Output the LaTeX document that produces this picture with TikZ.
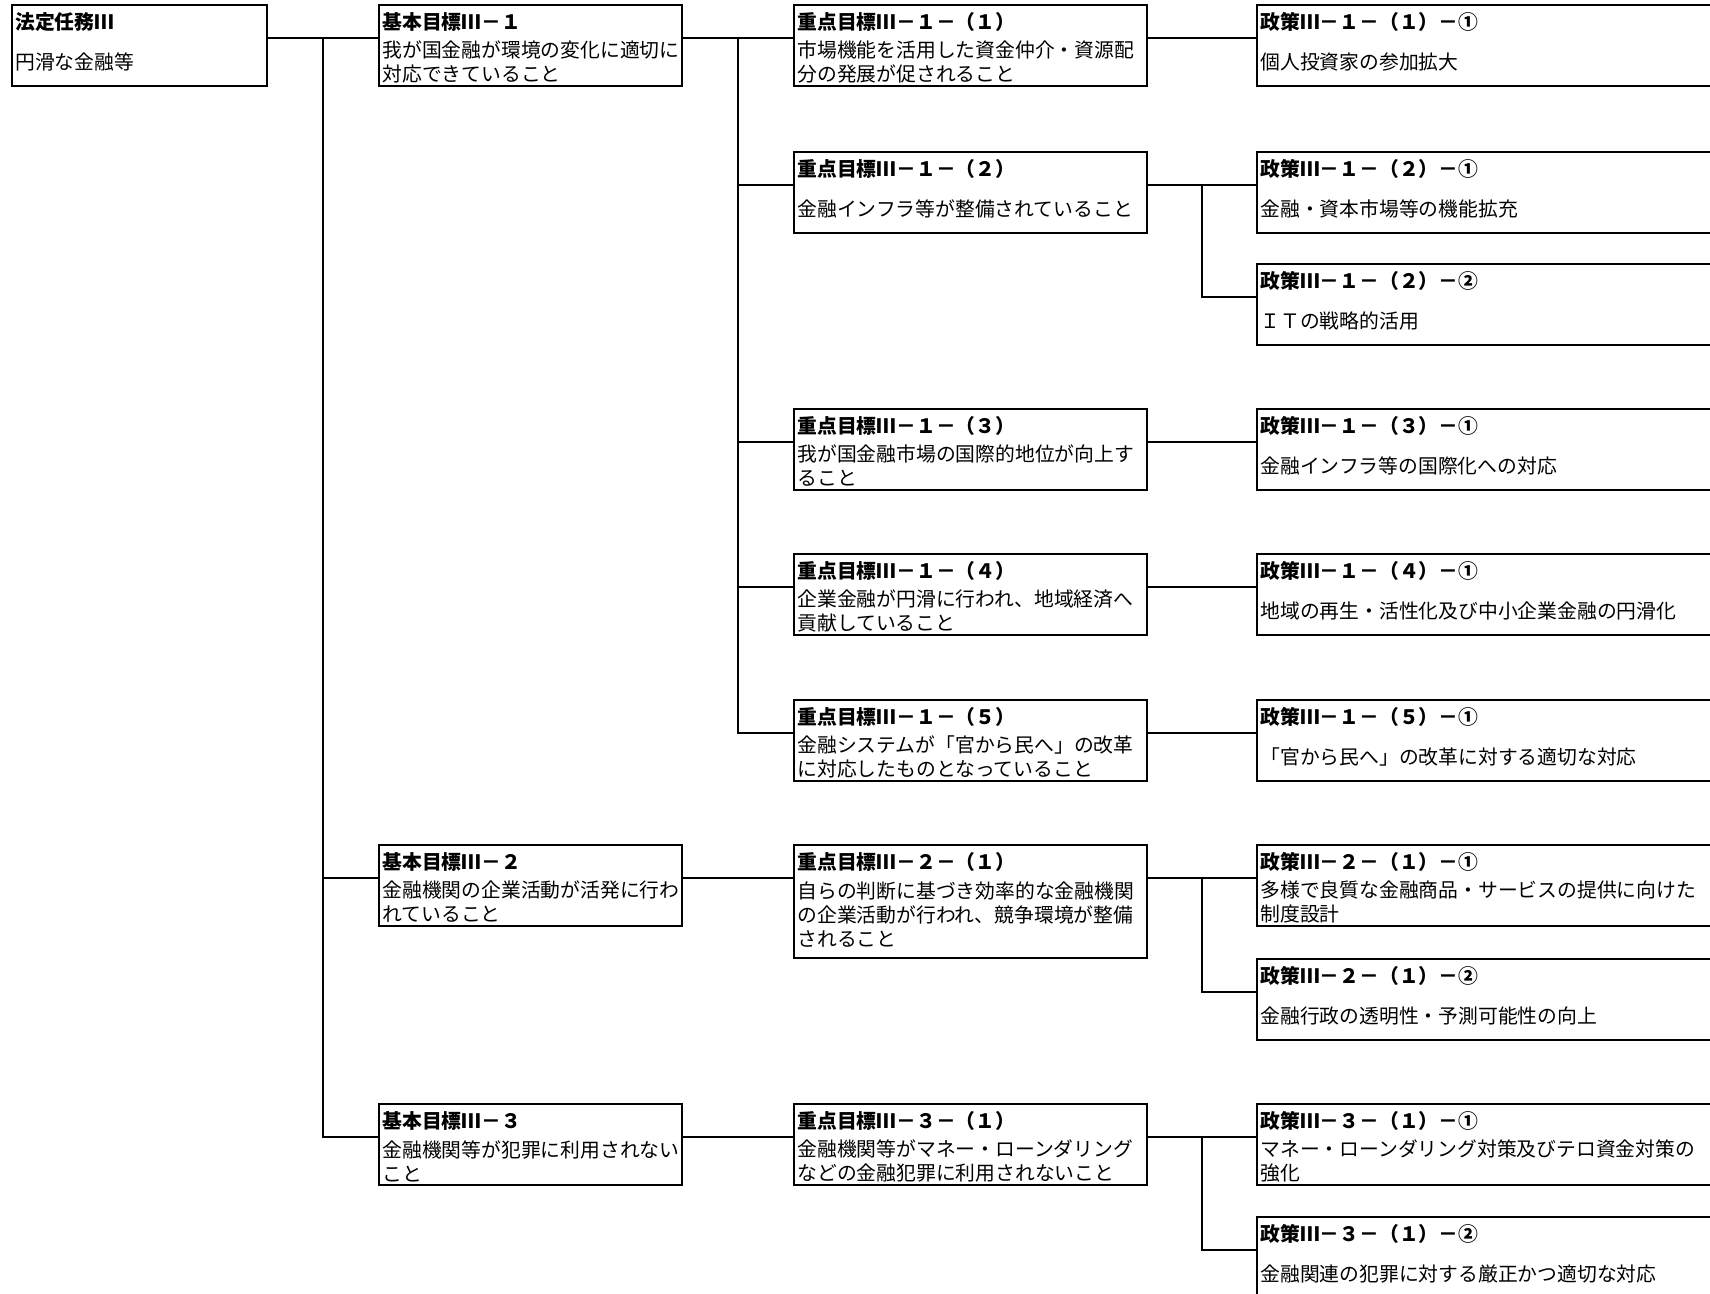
\documentclass[tikz,border=0pt]{standalone}
\usepackage{fontspec}
\setmainfont{Noto Sans CJK JP}
\usepackage{tikz}
\newcommand{\boxfont}{\fontsize{9.9pt}{12pt}\selectfont}
\newcommand{\numthree}{\makebox[1em][c]{Ⅲ}}
\newcommand{\defaultboxheight}{40.5pt}
\newcommand{\joinshift}{16.5pt}
\tikzstyle{goalbox}=[draw, line width=1.4pt, inner sep=0, outer sep=0, anchor=north west, minimum height=\defaultboxheight]
\tikzstyle{mbox}=[goalbox, minimum width=127.5pt]
\tikzstyle{bbox}=[goalbox, minimum width=151.5pt]
\tikzstyle{kbox}=[goalbox, minimum width=176.5pt]
\tikzstyle{sbox}=[goalbox, minimum width=240pt]
\tikzstyle{boxtitle}=[anchor=west, inner sep=0, font=\boxfont\bfseries]
\tikzstyle{boxbody}=[anchor=west, inner sep=0, align=left, font=\boxfont]
\tikzstyle{joinline}=[line width=1pt]

\begin{document}
\begin{tikzpicture}[x=0.5pt, y=-0.5pt]
    \clip (0,0) rectangle (1710,1294);
    % mission
    \node[mbox] (m) at (12,5) {};
    \node[boxtitle] (mt) at ([xshift=1.5pt,yshift=-8.5pt]m.north west) {法定任務\numthree};
    \node[boxbody] (mb) at ([xshift=1.5pt,yshift=-28.5pt]m.north west) {円滑な金融等};
    % basic goals
    \node[bbox] (b1) at (379,5) {};
    \node[boxtitle] (b1t) at ([xshift=1.5pt,yshift=-8.5pt]b1.north west) {基本目標\numthree－１};
    \node[boxbody] (b1b) at ([xshift=1.5pt,yshift=-28.5pt]b1.north west) {我が国金融が環境の変化に適切に\\対応できていること};
    \node[bbox] (b2) at (379,845) {};
    \node[boxtitle] (b2t) at ([xshift=1.5pt,yshift=-8.5pt]b2.north west) {基本目標\numthree－２};
    \node[boxbody] (b2b) at ([xshift=1.5pt,yshift=-28.5pt]b2.north west) {金融機関の企業活動が活発に行わ\\れていること};
    \node[bbox] (b3) at (379,1104) {};
    \node[boxtitle] (b3t) at ([xshift=1.5pt,yshift=-8.5pt]b3.north west) {基本目標\numthree－３};
    \node[boxbody] (b3b) at ([xshift=1.5pt,yshift=-28.5pt]b3.north west) {金融機関等が犯罪に利用されない\\こと};
    % key goals
    \node[kbox] (k11) at (794,5) {};
    \node[boxtitle] (k11t) at ([xshift=1.5pt,yshift=-8.5pt]k11.north west) {重点目標\numthree－１－（１）};
    \node[boxbody] (k11b) at ([xshift=1.5pt,yshift=-28.5pt]k11.north west) {市場機能を活用した資金仲介・資源配\\分の発展が促されること};
    \node[kbox] (k12) at (794,152) {};
    \node[boxtitle] (k12t) at ([xshift=1.5pt,yshift=-8.5pt]k12.north west) {重点目標\numthree－１－（２）};
    \node[boxbody] (k12b) at ([xshift=1.5pt,yshift=-28.5pt]k12.north west) {金融インフラ等が整備されていること};
    \node[kbox] (k13) at (794,409) {};
    \node[boxtitle] (k13t) at ([xshift=1.5pt,yshift=-8.5pt]k13.north west) {重点目標\numthree－１－（３）};
    \node[boxbody] (k13b) at ([xshift=1.5pt,yshift=-28.5pt]k13.north west) {我が国金融市場の国際的地位が向上す\\ること};
    \node[kbox] (k14) at (794,554) {};
    \node[boxtitle] (k14t) at ([xshift=1.5pt,yshift=-8.5pt]k14.north west) {重点目標\numthree－１－（４）};
    \node[boxbody] (k14b) at ([xshift=1.5pt,yshift=-28.5pt]k14.north west) {企業金融が円滑に行われ、地域経済へ\\貢献していること};
    \node[kbox] (k15) at (794,700) {};
    \node[boxtitle] (k15t) at ([xshift=1.5pt,yshift=-8.5pt]k15.north west) {重点目標\numthree－１－（５）};
    \node[boxbody] (k15b) at ([xshift=1.5pt,yshift=-28.5pt]k15.north west) {金融システムが「官から民へ」の改革\\に対応したものとなっていること};
    \node[kbox, minimum height=56.5pt] (k21) at (794,845) {};
    \node[boxtitle] (k21t) at ([xshift=1.5pt,yshift=-8.5pt]k21.north west) {重点目標\numthree－２－（１）};
    \node[boxbody] (k21b) at ([xshift=1.5pt,yshift=-35pt]k21.north west) {自らの判断に基づき効率的な金融機関\\の企業活動が行われ、競争環境が整備\\されること};
    \node[kbox] (k31) at (794,1104) {};
    \node[boxtitle] (k31t) at ([xshift=1.5pt,yshift=-8.5pt]k31.north west) {重点目標\numthree－３－（１）};
    \node[boxbody] (k31b) at ([xshift=1.5pt,yshift=-28.5pt]k31.north west) {金融機関等がマネー・ローンダリング\\などの金融犯罪に利用されないこと};
    % policies
    \node[sbox] (s111) at (1257,5) {};
    \node[boxtitle] (s111t) at ([xshift=1.5pt,yshift=-8.5pt]s111.north west) {政策\numthree－１－（１）－①};
    \node[boxbody] (s111b) at ([xshift=1.5pt,yshift=-28.5pt]s111.north west) {個人投資家の参加拡大};
    \node[sbox] (s121) at (1257,152) {};
    \node[boxtitle] (s121t) at ([xshift=1.5pt,yshift=-8.5pt]s121.north west) {政策\numthree－１－（２）－①};
    \node[boxbody] (s121b) at ([xshift=1.5pt,yshift=-28.5pt]s121.north west) {金融・資本市場等の機能拡充};
    \node[sbox] (s122) at (1257,264) {};
    \node[boxtitle] (s122t) at ([xshift=1.5pt,yshift=-8.5pt]s122.north west) {政策\numthree－１－（２）－②};
    \node[boxbody] (s122b) at ([xshift=1.5pt,yshift=-28.5pt]s122.north west) {ＩＴの戦略的活用};
    \node[sbox] (s131) at (1257,409) {};
    \node[boxtitle] (s131t) at ([xshift=1.5pt,yshift=-8.5pt]s131.north west) {政策\numthree－１－（３）－①};
    \node[boxbody] (s131b) at ([xshift=1.5pt,yshift=-28.5pt]s131.north west) {金融インフラ等の国際化への対応};
    \node[sbox] (s141) at (1257,554) {};
    \node[boxtitle] (s141t) at ([xshift=1.5pt,yshift=-8.5pt]s141.north west) {政策\numthree－１－（４）－①};
    \node[boxbody] (s141b) at ([xshift=1.5pt,yshift=-28.5pt]s141.north west) {地域の再生・活性化及び中小企業金融の円滑化};
    \node[sbox] (s151) at (1257,700) {};
    \node[boxtitle] (s151t) at ([xshift=1.5pt,yshift=-8.5pt]s151.north west) {政策\numthree－１－（５）－①};
    \node[boxbody] (s151b) at ([xshift=1.5pt,yshift=-28.5pt]s151.north west) {「官から民へ」の改革に対する適切な対応};
    \node[sbox] (s211) at (1257,845) {};
    \node[boxtitle] (s211t) at ([xshift=1.5pt,yshift=-8.5pt]s211.north west) {政策\numthree－２－（１）－①};
    \node[boxbody] (s211b) at ([xshift=1.5pt,yshift=-28.5pt]s211.north west) {多様で良質な金融商品・サービスの提供に向けた\\制度設計};
    \node[sbox] (s212) at (1257,959) {};
    \node[boxtitle] (s212t) at ([xshift=1.5pt,yshift=-8.5pt]s212.north west) {政策\numthree－２－（１）－②};
    \node[boxbody] (s212b) at ([xshift=1.5pt,yshift=-28.5pt]s212.north west) {金融行政の透明性・予測可能性の向上};
    \node[sbox] (s311) at (1257,1104) {};
    \node[boxtitle] (s311t) at ([xshift=1.5pt,yshift=-8.5pt]s311.north west) {政策\numthree－３－（１）－①};
    \node[boxbody] (s311b) at ([xshift=1.5pt,yshift=-28.5pt]s311.north west) {マネー・ローンダリング対策及びテロ資金対策の\\強化};
    \node[sbox] (s312) at (1257,1217) {};
    \node[boxtitle] (s312t) at ([xshift=1.5pt,yshift=-8.5pt]s312.north west) {政策\numthree－３－（１）－②};
    \node[boxbody] (s312b) at ([xshift=1.5pt,yshift=-28.5pt]s312.north west) {金融関連の犯罪に対する厳正かつ適切な対応};
    % joins
    \coordinate (j1) at (323,38);
    \coordinate (j2) at (738,38);
    \coordinate (j3) at (1202,185);
    \coordinate (j4) at (1202,878);
    \coordinate (j5) at (1202,1137);
    \draw[joinline] ([yshift=-\joinshift]m.north east) -- ([yshift=-\joinshift]b1.north west);
    \draw[joinline] (j1) |- ([yshift=-\joinshift]b2.north west);
    \draw[joinline] (j1) |- ([yshift=-\joinshift]b3.north west);
    \draw[joinline] ([yshift=-\joinshift]b1.north east) -- ([yshift=-\joinshift]k11.north west);
    \draw[joinline] (j2) |- ([yshift=-\joinshift]k12.north west);
    \draw[joinline] (j2) |- ([yshift=-\joinshift]k13.north west);
    \draw[joinline] (j2) |- ([yshift=-\joinshift]k14.north west);
    \draw[joinline] (j2) |- ([yshift=-\joinshift]k15.north west);
    \draw[joinline] ([yshift=-\joinshift]b2.north east) -- ([yshift=-\joinshift]k21.north west);
    \draw[joinline] ([yshift=-\joinshift]b3.north east) -- ([yshift=-\joinshift]k31.north west);
    \draw[joinline] ([yshift=-\joinshift]k11.north east) -- ([yshift=-\joinshift]s111.north west);
    \draw[joinline] ([yshift=-\joinshift]k12.north east) -- ([yshift=-\joinshift]s121.north west);
    \draw[joinline] (j3) |- ([yshift=-\joinshift]s122.north west);
    \draw[joinline] ([yshift=-\joinshift]k13.north east) -- ([yshift=-\joinshift]s131.north west);
    \draw[joinline] ([yshift=-\joinshift]k14.north east) -- ([yshift=-\joinshift]s141.north west);
    \draw[joinline] ([yshift=-\joinshift]k15.north east) -- ([yshift=-\joinshift]s151.north west);
    \draw[joinline] ([yshift=-\joinshift]k21.north east) -- ([yshift=-\joinshift]s211.north west);
    \draw[joinline] (j4) |- ([yshift=-\joinshift]s212.north west);
    \draw[joinline] ([yshift=-\joinshift]k31.north east) -- ([yshift=-\joinshift]s311.north west);
    \draw[joinline] (j5) |- ([yshift=-\joinshift]s312.north west);
\end{tikzpicture}
\end{document}
